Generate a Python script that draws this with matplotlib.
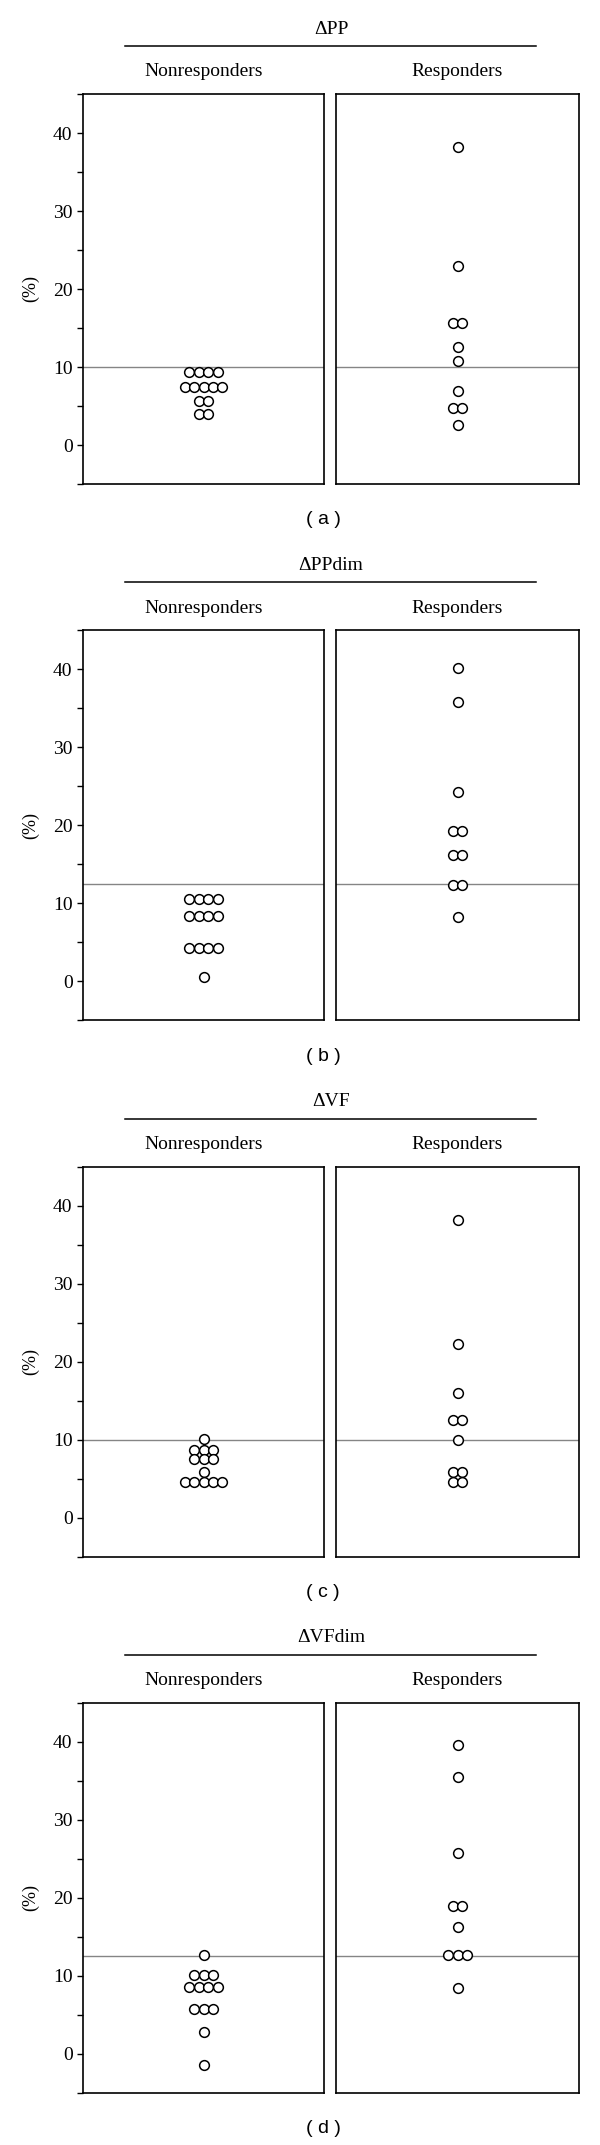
import matplotlib
matplotlib.use("Agg")
import matplotlib.pyplot as plt
import numpy as np

panel_titles = ["ΔPP", "ΔPPdim", "ΔVF", "ΔVFdim"]
panel_letters = ["a", "b", "c", "d"]
group_names = ["Nonresponders", "Responders"]
thresholds = [10, 12.5, 10, 12.5]

# values (%)
pp_non = [9.3, 9.3, 9.3, 9.3, 7.4, 7.4, 7.4, 7.4, 7.4, 5.6, 5.6, 4.0, 4.0]
pp_resp = [38.2, 22.9, 15.6, 15.6, 12.6, 10.8, 6.9, 4.8, 4.8, 2.6]

ppdim_non = [10.5, 10.5, 10.5, 10.5, 8.4, 8.4, 8.4, 8.4, 4.2, 4.2, 4.2, 4.2, 0.5]
ppdim_resp = [40.2, 35.8, 24.2, 19.2, 19.2, 16.2, 16.2, 12.4, 12.4, 8.3]

vf_non = [10.1, 8.6, 8.6, 8.6, 7.5, 7.5, 7.5, 5.8, 4.5, 4.5, 4.5, 4.5, 4.5]
vf_resp = [38.2, 22.3, 15.9, 12.5, 12.5, 10.0, 5.8, 5.8, 4.5, 4.5]

vfdim_non = [12.7, 10.1, 10.1, 10.1, 8.6, 8.6, 8.6, 8.6, 5.7, 5.7, 5.7, 2.8, -1.5]
vfdim_resp = [39.6, 35.5, 25.7, 19.0, 19.0, 16.3, 12.6, 12.6, 12.6, 8.4]

panels = [(pp_non, pp_resp), (ppdim_non, ppdim_resp),
          (vf_non, vf_resp), (vfdim_non, vfdim_resp)]

serif = "Liberation Serif"
W, H = 600, 2145
PH = H / 4


def swarm_x(values, center=0.5, step=0.039):
    # spread tied values side by side, like the original dot plot
    values = np.asarray(values)
    xs = np.zeros(len(values))
    for v in np.unique(values):
        idx = np.where(values == v)[0]
        n = len(idx)
        xs[idx] = center + (np.arange(n) - (n - 1) / 2) * step
    return xs


def fx(px):
    return px / W


def fy(py):
    return 1 - py / H


fig = plt.figure(figsize=(W / 100, H / 100), dpi=100)

for i, (title, letter, th, groups) in enumerate(zip(panel_titles, panel_letters, thresholds, panels)):
    off = i * PH
    fig.text(fx(331), fy(off + 29), title, ha="center", va="center", family=serif, fontsize=14)
    fig.add_artist(plt.Line2D([fx(125), fx(536)], [fy(off + 46), fy(off + 46)],
                              color="black", lw=1.1))
    ax_top, ax_bot = off + 94, off + 484
    boxes = [(83, 324), (336, 579)]
    for j, (vals, (x0, x1)) in enumerate(zip(groups, boxes)):
        ax = fig.add_axes([fx(x0), fy(ax_bot), (x1 - x0) / W, (ax_bot - ax_top) / H])
        ax.set_xlim(0, 1)
        ax.set_ylim(-5, 45)
        ax.axhline(th, color="#858585", lw=1.0, zorder=1)
        ax.plot(swarm_x(vals), vals, "o", mfc="white", mec="black", ms=7, mew=1.1,
                zorder=3, clip_on=False)
        for s in ax.spines.values():
            s.set_linewidth(1.2)
        ax.set_xticks([])
        if j == 0:
            ax.set_yticks([0, 10, 20, 30, 40])
            ax.set_yticks([-5, 5, 15, 25, 35, 45], minor=True)
            ax.tick_params(axis="y", which="both", direction="out", length=4.5, width=1.0, pad=3)
            for lab in ax.get_yticklabels():
                lab.set_family(serif)
                lab.set_fontsize(14)
            ax.set_ylabel("(%)", family=serif, fontsize=13, labelpad=10)
        else:
            ax.set_yticks([])
        fig.text(fx((x0 + x1) / 2), fy(off + 72), group_names[j], ha="center", va="center",
                 family=serif, fontsize=14)
    fig.text(fx(323), fy(off + 520), "( %s )" % letter, ha="center", va="center",
             family="Liberation Sans", fontsize=14)

fig.savefig("out.png", dpi=100)
plt.close(fig)
